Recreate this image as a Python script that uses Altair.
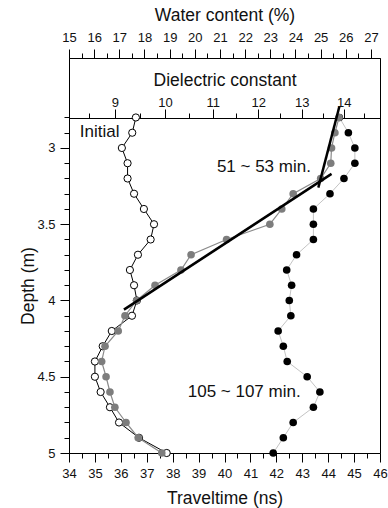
import altair as alt
import pandas as pd

# ---------------- data ----------------
depth = [2.8, 2.9, 3.0, 3.1, 3.2, 3.3, 3.4, 3.5, 3.6, 3.7, 3.8, 3.9,
         4.0, 4.1, 4.2, 4.3, 4.4, 4.5, 4.6, 4.7, 4.8, 4.9, 5.0]
initial_tt = [36.58, 36.44, 36.04, 36.26, 36.26, 36.51, 36.89, 37.28, 37.15, 36.66, 36.35, 36.51,
              36.62, 36.43, 35.65, 35.30, 35.00, 35.00, 35.22, 35.58, 35.93, 36.70, 37.77]
tt_51_53 = [44.42, 44.26, 44.13, 44.10, 43.71, 42.65, 42.21, 41.75, 40.08, 38.71, 38.32, 37.32,
            36.61, 36.16, 35.90, 35.39, 35.26, 35.43, 35.58, 35.77, 36.20, 36.67, 37.58]
tt_105_107 = [44.43, 44.78, 45.03, 45.03, 44.61, 44.07, 43.43, 43.43, 43.43, 42.78, 42.40, 42.59,
              42.50, 42.56, 42.07, 42.27, 42.42, 43.19, 43.68, 43.43, 42.65, 42.27, 41.88]

fit_id = ["a", "a", "b", "b"]
fit_tt = [36.12, 44.13, 44.43, 43.62]
fit_depth = [4.06, 3.17, 2.73, 3.26]

ann_text = ["Initial", "51 ~ 53 min.", "105 ~ 107 min."]
ann_tt = [35.18, 41.52, 40.76]
ann_depth = [2.93, 3.155, 4.632]

tt_ticks = [34, 34.5, 35, 35.5, 36, 36.5, 37, 37.5, 38, 38.5, 39, 39.5, 40, 40.5,
            41, 41.5, 42, 42.5, 43, 43.5, 44, 44.5, 45, 45.5, 46]
depth_ticks = depth
water_ticks = [15, 15.5, 16, 16.5, 17, 17.5, 18, 18.5, 19, 19.5, 20, 20.5, 21, 21.5,
               22, 22.5, 23, 23.5, 24, 24.5, 25, 25.5, 26, 26.5, 27]
diel_ticks = [8.5, 9, 9.5, 10, 10.5, 11, 11.5, 12, 12.5, 13, 13.5, 14, 14.5]

# ---------------- tables ----------------
df_init = pd.DataFrame({"depth": depth, "tt": initial_tt})
df_51 = pd.DataFrame({"depth": depth, "tt": tt_51_53})
df_105 = pd.DataFrame({"depth": depth, "tt": tt_105_107})
df_fit = pd.DataFrame({"id": fit_id, "tt": fit_tt, "depth": fit_depth})
df_ann = pd.DataFrame({"label": ann_text, "tt": ann_tt, "depth": ann_depth})
df_water = pd.DataFrame({"w": water_ticks})
df_diel = pd.DataFrame({"e": diel_ticks})

FONT = "Liberation Sans"
TFS = 17.5
major_int = "abs(datum.value - round(datum.value)) < 0.001"
major_half = "abs(datum.value * 2 - round(datum.value * 2)) < 0.001"

def tsize(test):
    return {"condition": {"test": test, "value": 9}, "value": 5}

x_axis = alt.Axis(orient="bottom", values=tt_ticks,
                  labelExpr=f"{major_int} ? format(datum.value, 'd') : ''",
                  tickSize=tsize(major_int), labelPadding=5, labelFlush=False,
                  labelOverlap=False, labelFontSize=13,
                  title="Traveltime (ns)", titleX=155.5, titleY=50,
                  titleBaseline="alphabetic", titleFontSize=TFS)
y_axis = alt.Axis(orient="left", values=depth_ticks,
                  labelExpr=f"{major_half} ? format(datum.value, '~g') : ''",
                  tickSize=tsize(major_half), labelPadding=5, labelOverlap=False,
                  labelFontSize=13,
                  title="Depth (m)", titleX=-36, titleY=227.5,
                  titleBaseline="alphabetic", titleFontSize=TFS)

xs = alt.Scale(domain=[34, 46], nice=False, zero=False)
ys = alt.Scale(domain=[2.41, 5], reverse=True, nice=False, zero=False)
X = alt.X("tt:Q", scale=xs, axis=x_axis)
Y = alt.Y("depth:Q", scale=ys, axis=y_axis)

l105_line = alt.Chart(df_105).mark_line(color="#c4c4c4", strokeWidth=1).encode(
    x=X, y=Y, order="depth:Q")
l105_pts = alt.Chart(df_105).mark_circle(color="#000000", size=58, opacity=1).encode(x=X, y=Y)
init_line = alt.Chart(df_init).mark_line(color="#000000", strokeWidth=1).encode(
    x=X, y=Y, order="depth:Q")
init_pts = alt.Chart(df_init).mark_point(shape="circle", filled=True, fill="white",
                                         stroke="black", strokeWidth=1, size=52,
                                         opacity=1).encode(x=X, y=Y)
l51_line = alt.Chart(df_51).mark_line(color="#8a8a8a", strokeWidth=1.2).encode(
    x=X, y=Y, order="depth:Q")
l51_pts = alt.Chart(df_51).mark_circle(color="#7d7d7d", size=58, opacity=1).encode(x=X, y=Y)
fit = alt.Chart(df_fit).mark_line(color="#000000", strokeWidth=2.5).encode(
    x=X, y=Y, detail="id:N", order="depth:Q")
ann = alt.Chart(df_ann).mark_text(font=FONT, fontSize=17, baseline="alphabetic",
                                  align="center", color="#111111").encode(
    x=X, y=Y, text="label:N")

main = alt.layer(l105_line, l105_pts, init_line, init_pts, l51_line, l51_pts, fit, ann)

water = alt.Chart(df_water).mark_point(opacity=0).encode(
    x=alt.X("w:Q", scale=alt.Scale(domain=[15, 27.36], nice=False, zero=False),
            axis=alt.Axis(orient="top", values=water_ticks,
                          labelExpr=f"{major_int} ? format(datum.value, 'd') : ''",
                          tickSize=tsize(major_int), labelPadding=5, labelFlush=False,
                          labelOverlap=False, labelFontSize=13,
                          title="Water content (%)", titleX=155.5, titleY=-38,
                          titleBaseline="alphabetic", titleFontSize=TFS)))

diel = alt.Chart(df_diel).mark_point(opacity=0).encode(
    x=alt.X("e:Q", scale=alt.Scale(type="sqrt", domain=[8.13, 14.89], nice=False, zero=False),
            axis=alt.Axis(orient="top", offset=-60, values=diel_ticks,
                          labelExpr=f"{major_int} ? format(datum.value, 'd') : ''",
                          tickSize=tsize(major_int), labelPadding=0, labelFlush=False,
                          labelOverlap=False, labelFontSize=13,
                          title="Dielectric constant", titleX=155.5, titleY=-33,
                          titleBaseline="alphabetic", titleFontSize=TFS)))

chart = alt.layer(main, water, diel).resolve_scale(x="independent").properties(
    width=311, height=395,
    padding={"left": 69, "top": 58, "right": 8, "bottom": 55},
    autosize=alt.AutoSizeParams(type="none"),
).configure_axis(
    domainColor="#000000", tickColor="#000000", labelColor="#111111",
    titleColor="#111111", labelFont=FONT, titleFont=FONT, titleFontWeight="normal",
    grid=False, domainWidth=1, tickWidth=1,
).configure_view(stroke="#000000", strokeWidth=1)

chart.save("out.html", embed_options={"renderer": "svg", "actions": False})
